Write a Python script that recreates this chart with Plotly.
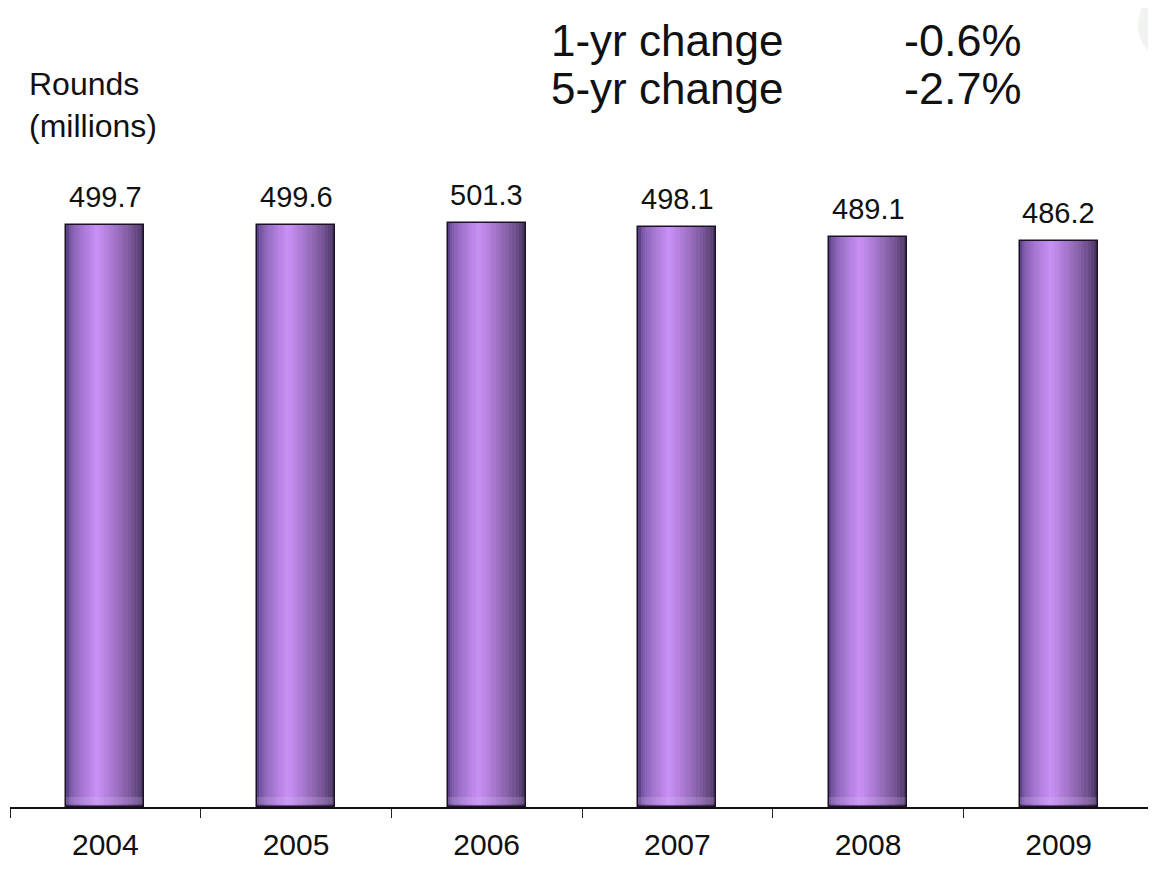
import plotly.graph_objects as go

years = ["2004", "2005", "2006", "2007", "2008", "2009"]
rounds = [499.7, 499.6, 501.3, 498.1, 489.1, 486.2]
value_labels = ["499.7", "499.6", "501.3", "498.1", "489.1", "486.2"]
change_labels = ["1-yr change", "5-yr change"]
change_values = ["-0.6%", "-2.7%"]

FONT = "Arial, Liberation Sans, sans-serif"
W = 0.408          # bar width in category units
H = -0.04          # highlight offset from category centre
N = 14

# page body has an 8px margin: figure is sized/offset to compensate
OFF = 8
FIG_W, FIG_H = 1156 - OFF, 874 - OFF
ML, MT = 10 - OFF, 150 - OFF
PLOT_W, PLOT_H = 1144, 657
MB = FIG_H - MT - PLOT_H
MR = FIG_W - ML - PLOT_W


def lerp(c1, c2, t):
    return "rgb(%d,%d,%d)" % tuple(round(a + (b - a) * t) for a, b in zip(c1, c2))


left_edge = (92, 66, 136)
right_edge = (74, 54, 98)
peak = (204, 146, 248)

fig = go.Figure()

# left half of cylinder shading
for k in range(N):
    u = k / N
    a = -W / 2 + u * (H + W / 2)
    t = u ** 0.55
    fig.add_trace(go.Bar(
        x=years, y=rounds, width=[H - a] * len(years), offset=[a] * len(years),
        marker=dict(color=lerp(left_edge, peak, t), line=dict(width=0)),
        hoverinfo="skip", showlegend=False))
# right half of cylinder shading
for k in range(N):
    u = k / N
    b = W / 2 - u * (W / 2 - H)
    t = u ** 0.75
    fig.add_trace(go.Bar(
        x=years, y=rounds, width=[b - H] * len(years), offset=[H] * len(years),
        marker=dict(color=lerp(right_edge, peak, t), line=dict(width=0)),
        hoverinfo="skip", showlegend=False))

# light band near base of each cylinder
fig.add_trace(go.Bar(
    x=years, y=[6] * len(years), base=[3] * len(years), width=W,
    marker=dict(color="rgba(225,200,255,0.2)", line=dict(width=0)),
    hoverinfo="skip", showlegend=False))

# outline
fig.add_trace(go.Bar(
    x=years, y=rounds, width=W,
    marker=dict(color="rgba(0,0,0,0)", line=dict(color="#1c1226", width=1.5)),
    showlegend=False))

for i, (v, lab) in enumerate(zip(rounds, value_labels)):
    fig.add_annotation(x=i, y=v, text=lab, showarrow=False, yanchor="middle",
                       yshift=28, font=dict(family=FONT, size=29, color="#111"))


def py(win_y):
    return 1 + (MT - (win_y - OFF)) / PLOT_H


def px(win_x):
    return ((win_x - OFF) - ML) / PLOT_W


# headline texts
for i, (lab, val) in enumerate(zip(change_labels, change_values)):
    yy = 40 + i * 48
    fig.add_annotation(xref="paper", yref="paper", x=px(549), y=py(yy),
                       text=lab, showarrow=False, xanchor="left", yanchor="middle",
                       font=dict(family=FONT, size=44, color="#111"))
    fig.add_annotation(xref="paper", yref="paper", x=px(902), y=py(yy),
                       text=val, showarrow=False, xanchor="left", yanchor="middle",
                       font=dict(family=FONT, size=45, color="#111"))

fig.add_annotation(xref="paper", yref="paper", x=px(27), y=py(105),
                   text="Rounds<br>(millions)", showarrow=False, xanchor="left", yanchor="middle",
                   align="left", font=dict(family=FONT, size=32, color="#111"))

fig.update_layout(
    width=FIG_W, height=FIG_H,
    margin=dict(l=ML, r=MR, t=MT, b=MB, autoexpand=False),
    barmode="overlay",
    bargap=0,
    plot_bgcolor="white", paper_bgcolor="white",
    showlegend=False,
    xaxis=dict(type="category", tickson="boundaries", ticks="outside", ticklen=9,
               tickcolor="#222", tickwidth=1.2, showline=True, linecolor="#111", linewidth=1.5,
               showgrid=False, ticklabelstandoff=10,
               tickfont=dict(family=FONT, size=30, color="#111"), range=[-0.5, 5.5]),
    yaxis=dict(visible=False, range=[0, 564.1], fixedrange=True),
)

fig.add_shape(type="circle", xref="paper", yref="paper", layer="below",
              x0=px(1138), x1=px(1200), y0=py(60), y1=py(-10),
              fillcolor="rgba(215,222,215,0.35)", line=dict(width=0))

fig.write_html("out.html")
